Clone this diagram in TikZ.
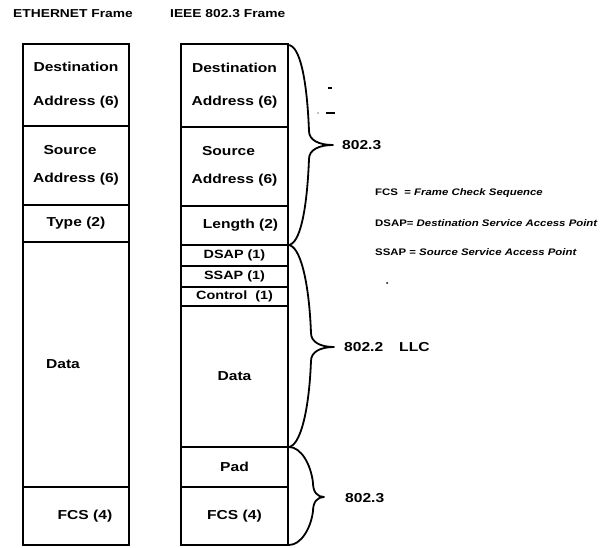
\documentclass[tikz,border=0pt]{standalone}
\usepackage{fontspec}
\setmainfont{Liberation Sans}[FakeStretch=1.2]
\newcommand\mybrc[6]{% x0, ytop, ymid, ybot, xm, xt
  \draw[bracestyle] (#1,#2)
    .. controls ({#1+12},#2) and ({#5-2},{#2+0.35*(#3-#2)}) .. (#5,{#3-14})
    .. controls (#5,{#3-5}) and ({#5+0.4*(#6-#5)},#3) .. (#6,#3)
    .. controls ({#5+0.4*(#6-#5)},#3) and (#5,{#3+5}) .. (#5,{#3+14})
    .. controls ({#5-2},{#4-0.35*(#4-#3)}) and ({#1+12},#4) .. (#1,#4);}
\begin{document}
\begin{tikzpicture}[x=1pt,y=-1pt,
  field/.style={draw, line width=2pt, inner sep=0pt, outer sep=0pt, anchor=north west,
    align=center, font=\fontsize{13}{15.6}\selectfont\bfseries},
  smallfield/.style={field, font=\fontsize{12}{14}\selectfont\bfseries},
  hdr/.style={anchor=west, inner sep=0pt, font=\fontsize{11.5}{14}\selectfont\bfseries},
  lbl/.style={anchor=west, inner sep=0pt, font=\fontsize{13}{15.6}\selectfont\bfseries},
  leg/.style={anchor=west, inner sep=0pt, font=\fontsize{9.5}{11}\selectfont\bfseries},
  bracestyle/.style={line width=1.8pt, line join=round, line cap=round},
  speck/.style={line width=1.3pt}]
\useasboundingbox (0,0) rectangle (603,548);

% headers
\node[hdr] (h1) at (13,14) {ETHERNET Frame};
\node[hdr] (h2) at (170,14) {IEEE 802.3 Frame};

% Ethernet frame
\node[field, minimum width=106pt, minimum height=82pt] (ldest) at (23,44) {Destination\\[18pt]Address (6)};
\node[field, minimum width=106pt, minimum height=79pt] (lsrc) at (23,126) {Source\rule{12pt}{0pt}\\[13pt]Address (6)};
\node[field, minimum width=106pt, minimum height=37pt] (ltype) at (23,205) {Type (2)};
\node[field, minimum width=106pt, minimum height=245pt] (ldata) at (23,242) {Data\rule{26pt}{0pt}};
\node[field, minimum width=106pt, minimum height=58pt] (lfcs) at (23,487) {\rule{18pt}{0pt}FCS (4)};

% IEEE 802.3 frame
\node[field, minimum width=107pt, minimum height=83pt] (rdest) at (181,44) {Destination\\[18pt]Address (6)};
\node[field, minimum width=107pt, minimum height=79pt] (rsrc) at (181,127) {Source\rule{12pt}{0pt}\\[13pt]Address (6)};
\node[field, minimum width=107pt, minimum height=39pt] (rlen) at (181,206) {\rule{12pt}{0pt}Length (2)};
\node[smallfield, minimum width=107pt, minimum height=21pt] (rdsap) at (181,245) {DSAP (1)};
\node[smallfield, minimum width=107pt, minimum height=21pt] (rssap) at (181,266) {SSAP (1)};
\node[smallfield, minimum width=107pt, minimum height=19pt] (rctl) at (181,287) {Control~~(1)};
\node[field, minimum width=107pt, minimum height=141pt] (rdata) at (181,306) {Data};
\node[field, minimum width=107pt, minimum height=40pt] (rpad) at (181,447) {Pad};
\node[field, minimum width=107pt, minimum height=58pt] (rfcs) at (181,487) {FCS (4)};

% braces
\mybrc{288}{45}{145}{245}{309}{333}
\mybrc{288}{245}{347}{447}{311}{334}
\mybrc{289}{447}{497}{545}{313}{324}

% brace labels
\node[lbl] (b1) at (342,145) {802.3};
\node[lbl] (b2) at (344,347) {802.2\hspace{16pt}LLC};
\node[lbl] (b3) at (345,498) {802.3};

% legend
\node[leg] (g1) at (375,193) {FCS~~= \textit{Frame Check Sequence}};
\node[leg] (g2) at (375,223) {DSAP= \textit{Destination Service Access Point}};
\node[leg] (g3) at (375,252) {SSAP = \textit{Source Service Access Point}};

% scan specks
\draw[speck] (328,88) -- (332,88);
\draw[speck] (326,113) -- (335,113);
\fill (318,113) circle (0.7pt);
\fill (387,283) circle (1pt);
\end{tikzpicture}
\end{document}
